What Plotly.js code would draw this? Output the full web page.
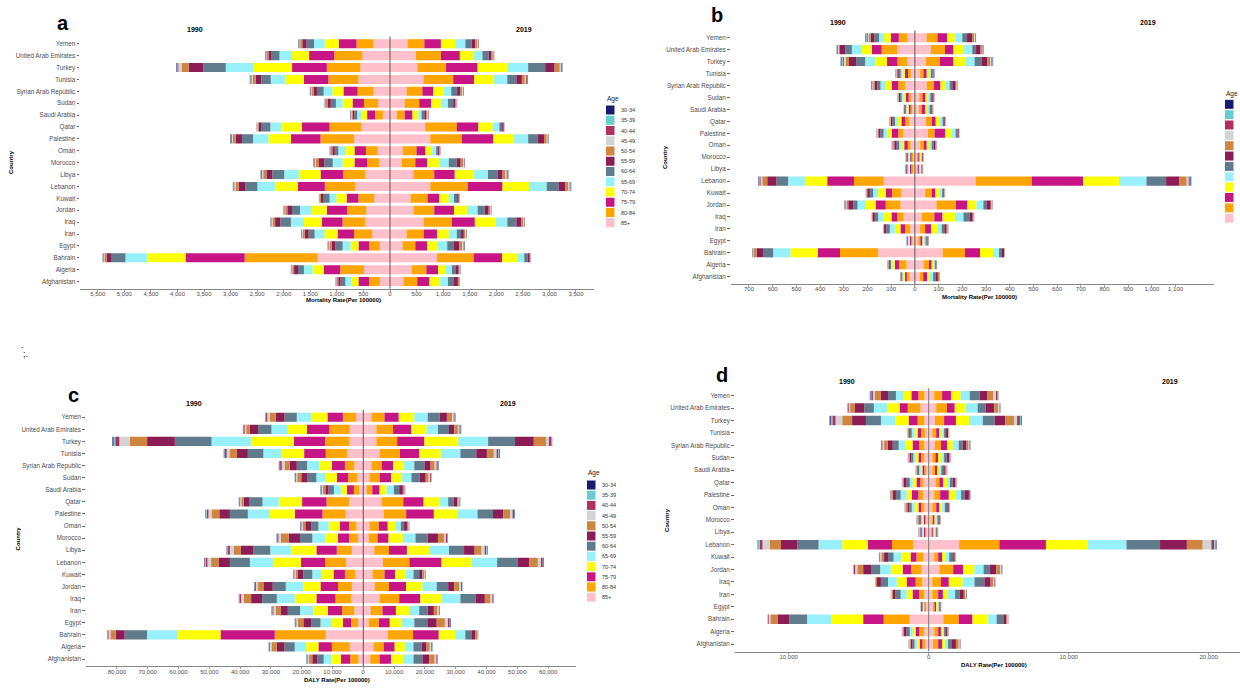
<!DOCTYPE html>
<html><head><meta charset="utf-8">
<script src="https://cdn.plot.ly/plotly-3.0.1.min.js"></script>
<style>html,body{margin:0;padding:0;background:#fff;}#chart{width:1240px;height:689px;}</style>
</head><body><div id="chart"></div>
<script>
// Countries, top to bottom as drawn
const countries = ["Yemen","United Arab Emirates","Turkey","Tunisia","Syrian Arab Republic","Sudan","Saudi Arabia","Qatar","Palestine","Oman","Morocco","Libya","Lebanon","Kuwait","Jordan","Iraq","Iran","Egypt","Bahrain","Algeria","Afghanistan"];
// Age groups in stacking order (centre outward)
const ages = ["85+","80-84","75-79","70-74","65-69","60-64","55-59","50-54","45-49","40-44","35-39","30-34"];
const ageColors = ["#FFC0CB","#FFA500","#C71585","#FFFF00","#98F0FA","#607B8B","#8B1C55","#CD853F","#D3D3D3","#B03060","#66CDCD","#1A1A6E"];

// Panel a: mortality rate, rows = countries, columns = ages
const mortA1990 = [
[320,310,335,265,200,140,80,40,15,15,5,3],
[520,528,475,320,237,149,59,30,10,10,5,5],
[557,632,654,720,528,423,275,134,59,20,10,10],
[594,565,461,356,268,178,104,60,22,15,8,7],
[320,289,268,208,163,127,59,35,15,12,7,5],
[223,267,216,186,126,97,59,30,12,8,5,4],
[134,148,149,111,75,52,37,20,10,8,3,3],
[542,595,520,394,200,164,59,20,8,5,2,2],
[676,632,557,423,290,208,119,52,22,15,8,7],
[230,223,216,163,141,67,45,25,12,8,4,3],
[208,223,238,223,185,156,104,59,20,12,7,6],
[468,409,431,408,275,223,112,60,25,15,6,5],
[654,572,505,431,335,223,126,59,25,15,7,5],
[297,297,223,193,127,111,52,20,8,5,2,2],
[446,356,387,282,223,149,89,40,15,10,5,4],
[468,424,393,335,245,201,96,50,20,10,5,4],
[334,342,312,245,186,112,74,35,15,10,4,3],
[193,201,200,149,149,133,75,40,15,10,5,4],
[1360,1374,1115,720,409,260,97,40,15,10,5,4],
[490,446,312,208,164,111,74,35,12,7,3,3],
[193,201,200,134,112,89,44,25,12,8,4,3]];
const mortA2019 = [
[327,319,312,268,193,119,67,37,15,10,3,2],
[483,475,357,260,164,118,53,25,10,8,4,4],
[513,542,594,558,393,320,178,97,25,15,7,5],
[632,557,394,364,260,171,104,55,25,15,8,8],
[312,297,208,201,134,111,60,35,15,8,4,4],
[275,275,223,185,134,97,37,20,8,5,2,2],
[126,149,149,111,59,52,38,20,10,8,3,3],
[661,595,408,268,126,52,30,8,3,2,1,1],
[758,594,595,386,267,179,119,52,20,10,4,3],
[238,260,171,126,74,37,25,15,7,3,1,1],
[223,253,222,231,178,149,74,45,20,10,4,3],
[438,394,387,356,268,178,97,52,25,20,8,6],
[758,706,654,497,335,223,126,59,25,15,7,5],
[386,320,223,178,97,59,30,12,5,3,1,1],
[446,386,372,245,200,134,74,30,12,7,2,2],
[632,534,431,387,223,171,89,40,18,10,4,2],
[312,320,252,223,149,81,52,30,15,8,4,3],
[238,238,222,194,185,127,96,60,25,15,7,5],
[884,691,535,282,134,67,37,12,5,3,2,1],
[409,275,222,134,126,75,52,20,8,5,2,2],
[253,260,230,201,148,112,74,20,8,5,2,2]];

// Panel b: mortality rate
const mortB1990 = [
[31,37,34,28,21,21,14,8,5,5,3,2],
[73,67,42,42,42,28,22,6,3,3,1,1],
[33,40,45,49,43,38,30,14,8,5,5,3],
[17,12,13,10,8,8,6,3,2,1,1,1],
[42,28,28,25,22,13,12,6,4,3,1,1],
[14,12,12,10,8,7,5,2,1,1,0.5,0.5],
[10,8,8,7,5,4,3,1,1,0.5,0.3,0.2],
[25,15,17,14,13,10,7,3,1,1,0.5,0.5],
[50,20,28,19,15,13,9,4,2,1,0.5,0.5],
[18,12,15,12,10,10,10,5,3,2,0.5,0.5],
[8,6,6,5,4,4,3,2,1,0.5,0.3,0.2],
[8,7,6,5,5,4,3,2,1,0.5,0.3,0.2],
[131,126,113,92,73,49,39,21,7,5,3,2],
[57,39,27,32,21,14,11,3,1,1,0.5,0.5],
[61,62,43,41,35,18,21,8,4,3,1,1],
[47,27,25,35,21,14,10,2,1,0.5,0.3,0.2],
[20,21,20,24,21,14,10,2,1,0.5,0.3,0.2],
[10,6,6,4,3,3,2,1,0.5,0.3,0.1,0.1],
[155,161,93,116,73,43,27,11,3,2,1,1],
[35,32,18,10,6,5,5,2,1,1,0.5,0.5],
[22,12,8,6,5,4,3,1,0.3,0.3,0.2,0.2]];
const mortB2019 = [
[49,46,41,32,32,20,21,10,3,2,1,1],
[67,60,36,42,37,16,19,6,3,2,1,1],
[47,58,58,50,39,31,22,12,6,4,2,1],
[22,14,14,10,8,7,4,2,1,1,0.5,0.5],
[50,30,28,22,17,11,14,4,2,1,0.5,0.5],
[18,14,13,11,9,8,6,2,1,1,0.2,0.2],
[17,13,13,10,9,7,5,2,1,0.5,0.3,0.2],
[47,25,16,17,12,7,4,1,0.5,0.3,0.1,0.1],
[55,28,44,28,17,8,5,2,1,0.3,0.2,0.1],
[22,15,13,11,10,8,8,3,2,1,0.2,0.2],
[8,6,6,5,4,3,3,1.5,1,0.3,0.1,0.1],
[8,6,5,4,4,3,2,1.5,1,0.3,0.1,0.1],
[256,237,217,151,116,83,56,31,8,5,3,3],
[43,28,16,19,9,5,4,2,1,0.3,0.1,0.1],
[91,82,49,38,29,13,18,4,2,1,0.5,0.5],
[29,53,35,52,36,25,14,3,1,1,0.5,0.5],
[22,21,25,28,17,11,10,4,1,1,0.5,0.5],
[14,9,9,7,6,5,4,2,1,1,0.5,0.5],
[117,94,64,55,25,10,11,2,1,0.5,0.3,0.2],
[38,21,12,7,6,4,3,1,0.3,0.2,0.1,0.1],
[20,15,16,13,13,10,10,5,2,1,0.5,0.5]];

// Panel c: DALY rate
const dalyC1990 = [
[2384,4239,5033,5298,4635,3974,2914,1987,700,400,150,100],
[4371,6622,7285,6225,5298,4371,2649,1192,500,350,120,90],
[4636,7682,10199,13907,12847,11921,9007,5562,3444,1325,600,327],
[5298,6887,7020,7285,5960,5033,3577,2384,900,550,250,154],
[2914,3046,4239,4105,3974,3311,2252,1722,900,550,250,154],
[1987,2914,3708,3576,3047,3046,1854,1325,450,250,60,35],
[1325,1721,2252,1987,2251,1722,1060,800,400,250,120,69],
[4636,7285,7947,7549,5298,4371,1722,800,400,250,80,59],
[5695,7550,9007,8212,7019,5828,3444,2516,1000,600,250,137],
[2252,2384,3046,3576,3312,2251,1987,900,400,250,100,72],
[1722,2914,3576,4106,4238,3974,3708,2517,800,400,180,77],
[3709,4900,6623,8212,6755,5563,3973,2384,1200,600,300,152],
[5563,6755,7947,8874,7682,6490,3709,2384,1200,600,300,152],
[2649,3311,3709,3841,3046,2914,1722,800,400,250,100,39],
[3709,4503,5695,5696,5563,4238,3046,1722,700,400,150,75],
[3974,5033,6225,7020,5828,4768,3576,2384,900,450,150,89],
[2914,3973,4636,4768,4239,3973,2384,1590,700,350,180,94],
[1722,2252,2649,3576,3708,3047,2516,1722,600,300,120,40],
[12185,16557,17616,13907,9934,7285,2914,1721,600,300,120,40],
[4371,5828,4371,3973,3709,3311,2517,1721,500,250,120,58],
[1589,2649,3047,3046,2517,2119,1589,1060,500,250,120,57]];
const dalyC2019 = [
[2649,4238,4636,5033,4371,3841,2384,1722,500,300,150,100],
[4238,5431,5960,4901,3708,3577,1721,1192,500,350,120,90],
[4238,6755,8875,10993,9669,8741,6093,3974,927,700,250,110],
[5298,6623,6225,7020,6357,5166,3443,2252,900,600,300,187],
[2649,3311,3709,3576,3311,3312,1986,1325,600,400,200,124],
[1987,3311,3709,3576,3046,2649,1987,927,450,300,100,77],
[1060,1854,2384,2252,2384,1722,1192,400,200,120,50,24],
[5960,7020,6623,5165,2781,1855,1060,500,300,150,60,49],
[6622,7285,9007,7550,6622,5033,3311,2252,800,450,200,139],
[1987,3046,2914,2384,1854,1060,927,400,200,120,50,25],
[1722,2914,3576,4636,4106,3973,3311,1987,600,350,150,92],
[3576,4768,5828,7285,6358,4900,3444,2252,1000,550,300,136],
[6358,8609,10463,9669,8345,6622,3841,2782,1000,600,250,137],
[3046,3841,3444,3576,2384,1855,1059,500,300,170,70,20],
[3709,4635,5563,5298,4636,3708,1987,1590,600,300,110,49],
[5298,6358,6887,6887,6093,4901,3046,1855,600,300,110,49],
[2384,3841,4371,4238,3312,2781,1987,1192,450,220,90,34],
[1722,3311,3576,3974,3973,4239,3046,2649,1000,600,250,137],
[7947,8212,8344,5298,3312,1986,1325,500,250,100,50,27],
[3311,3312,3576,3311,2781,2649,1590,1059,500,250,120,58],
[2252,3046,3709,3973,3311,2914,2252,1722,550,300,150,59]];

// Panel d: DALY rate
const dalyD1990 = [
[310,423,508,536,564,564,507,423,150,120,60,37],
[592,903,592,846,987,677,705,310,100,60,25,12],
[310,479,649,931,1043,1072,987,705,479,226,120,77],
[254,282,254,225,198,141,84,40,20,12,8,5],
[310,367,479,508,479,423,367,254,120,60,25,20],
[310,226,197,198,169,141,113,70,35,20,10,6],
[169,141,141,113,113,84,57,60,25,15,8,5],
[367,225,282,282,198,225,198,80,35,15,8,3],
[395,338,480,366,423,339,225,110,45,25,12,6],
[310,226,197,282,198,169,141,110,45,25,12,5],
[169,85,113,84,85,113,84,80,35,15,8,3],
[169,85,84,57,84,57,56,70,30,20,15,6],
[1100,1523,1720,1833,1692,1523,1156,818,507,200,150,17],
[395,479,423,649,564,395,282,200,90,50,20,6],
[508,733,620,846,762,648,564,423,150,80,40,12],
[451,480,648,705,621,507,282,80,35,15,8,3],
[310,367,479,423,423,367,197,80,40,15,5,1],
[169,85,56,57,56,56,57,30,12,8,4,2],
[1354,1861,1466,2256,1749,1269,846,507,120,50,20,8],
[310,367,254,225,198,225,198,80,35,15,8,3],
[254,197,198,169,197,141,141,80,35,15,8,3]];
const dalyD2019 = [
[395,564,648,677,649,705,564,423,180,120,60,6],
[536,761,564,790,846,564,620,282,100,45,15,9],
[451,649,846,930,987,846,762,620,226,200,100,38],
[254,282,225,198,141,141,141,40,20,12,8,4],
[451,423,451,395,423,282,282,141,70,40,20,11],
[254,225,198,225,198,197,169,80,35,15,8,3],
[254,197,169,141,141,141,113,90,40,20,12,7],
[479,282,282,282,198,197,169,80,35,15,8,3],
[395,423,620,508,366,254,310,80,35,15,8,3],
[254,282,225,198,197,169,113,50,20,8,4,3],
[197,113,113,113,84,85,85,50,20,8,4,2],
[169,85,84,85,85,56,56,30,12,8,5,2],
[2171,2877,3327,2961,2792,2397,1918,1128,620,200,120,47],
[395,282,282,282,225,282,113,50,20,10,3,2],
[761,987,705,818,649,423,479,282,100,45,20,4],
[254,620,564,987,846,705,451,200,70,40,20,9],
[254,423,338,367,507,339,282,120,50,30,15,10],
[310,113,113,113,84,57,56,30,12,8,4,2],
[1043,1100,987,1128,592,480,225,80,35,15,8,3],
[395,282,197,141,85,141,84,60,25,15,8,5],
[310,367,282,197,226,282,282,197,80,40,15,6]];

// Tick values (left side = 1990 drawn as negative)
const ticksA = [-5500,-5000,-4500,-4000,-3500,-3000,-2500,-2000,-1500,-1000,-500,0,500,1000,1500,2000,2500,3000,3500];
const ticksB = [-700,-600,-500,-400,-300,-200,-100,0,100,200,300,400,500,600,700,800,900,1000,1100];
const ticksC = [-80000,-70000,-60000,-50000,-40000,-30000,-20000,-10000,0,10000,20000,30000,40000,50000,60000];
const ticksD = [-10000,0,10000,20000];
const yearLabels = ["1990","2019"];
const panelLetters = ["a","b","c","d"];
const axisTitles = ["Mortality Rate(Per 100000)","Mortality Rate(Per 100000)","DALY Rate(Per 100000)","DALY Rate(Per 100000)"];

const W = 1240, H = 689;
const px = x => x / W, py = y => 1 - y / H;
const FONT = "Liberation Sans, Arial, Helvetica, sans-serif";
const fmt = v => String(Math.abs(v)).replace(/\B(?=(\d{3})+(?!\d))/g, ",");

const panels = [
  {d1990: mortA1990, d2019: mortA2019, ticks: ticksA, xd:[80,594], yd:[36.6,288.7], range:[-5834,3839],
   letter:[63,23], y1990:[195,29], y2019:[524,29], country:[11,162], atitle:[343,299.5], zc:"#555"},
  {d1990: mortB1990, d2019: mortB2019, ticks: ticksB, xd:[730.5,1214], yd:[30.5,283.9], range:[-778,1262],
   letter:[717,15], y1990:[838,23], y2019:[1148,23], country:[665,157], atitle:[979,296.5], zc:"#555"},
  {d1990: dalyC1990, d2019: dalyC2019, ticks: ticksC, xd:[85.7,575.5], yd:[410,666.3], range:[-90130,68900],
   letter:[73.5,395], y1990:[194,403], y2019:[508,403], country:[18.4,538], atitle:[337,679.5], zc:"#555"},
  {d1990: dalyD1990, d2019: dalyD2019, ticks: ticksD, xd:[734.6,1240], yd:[388.2,651.5], range:[-13864,22236],
   letter:[721.6,375], y1990:[847,381], y2019:[1170,381], country:[667,520], atitle:[993.5,664.5], zc:"#777"}
];

const traces = [];
const layout = {
  width: W, height: H, margin: {l:0, r:0, t:0, b:0},
  paper_bgcolor: "#fff", plot_bgcolor: "#fff",
  barmode: "relative", bargap: 0.24, showlegend: false,
  font: {family: FONT, color: "#333"},
  shapes: [], annotations: []
};

panels.forEach((p, i) => {
  const sfx = i === 0 ? "" : String(i + 1);
  const xa = "x" + sfx, ya = "y" + sfx;
  ages.forEach((age, k) => {
    traces.push({type:"bar", orientation:"h", name: age, y: countries, x: p.d1990.map(r => -r[k]),
      xaxis: xa, yaxis: ya, marker:{color: ageColors[k], line:{width:0}}, showlegend:false,
      customdata: p.d1990.map(r => r[k]), hovertemplate: "%{y}<br>1990 "+age+": %{customdata}<extra></extra>"});
    traces.push({type:"bar", orientation:"h", name: age, y: countries, x: p.d2019.map(r => r[k]),
      xaxis: xa, yaxis: ya, marker:{color: ageColors[k], line:{width:0}}, showlegend:false,
      hovertemplate: "%{y}<br>2019 "+age+": %{x}<extra></extra>"});
  });
  layout["xaxis" + sfx] = {
    anchor: ya, domain: [px(p.xd[0]), px(p.xd[1])], range: p.range,
    tickmode: "array", tickvals: p.ticks, ticktext: p.ticks.map(fmt),
    tickfont: {size: 6, color: "#4d4d4d", family: FONT},
    ticks: "outside", ticklen: 2, tickwidth: 0.8, tickcolor: "#888", ticklabelstandoff: -3,
    showline: true, linecolor: "#8a8a8a", linewidth: 1,
    showgrid: false, zeroline: false, fixedrange: true
  };
  layout["yaxis" + sfx] = {
    anchor: xa, domain: [py(p.yd[1]), py(p.yd[0])], type: "category",
    categoryorder: "array", categoryarray: countries.slice().reverse(), range: [-0.6, 20.6],
    tickfont: {size: 6.3, color: "#4d4d4d", family: FONT},
    ticks: "outside", ticklen: 2.5, tickwidth: 0.8, tickcolor: "#444",
    showline: false, showgrid: false, zeroline: false, fixedrange: true
  };
  layout.shapes.push({type:"line", xref: xa, yref: ya + " domain", x0:0, x1:0, y0:0, y1:1,
    line:{color: p.zc, width: 1}, layer:"above"});
  const ann = (pos, text, size, extra) => Object.assign({xref:"paper", yref:"paper", x: px(pos[0]), y: py(pos[1]),
    text: text, showarrow:false, xanchor:"center", yanchor:"middle", font:{family: FONT, size: size, color:"#000"}}, extra || {});
  layout.annotations.push(ann(p.letter, "<b>" + panelLetters[i] + "</b>", 20));
  layout.annotations.push(ann(p.y1990, "<b>" + yearLabels[0] + "</b>", 7));
  layout.annotations.push(ann(p.y2019, "<b>" + yearLabels[1] + "</b>", 7));
  layout.annotations.push(ann(p.country, "<b>Country</b>", 6, {textangle: -90}));
  layout.annotations.push(ann(p.atitle, "<b>" + axisTitles[i] + "</b>", 6));
});

// Hand-drawn legends (panels a, b, c); legend b sits at the cropped right edge, so only its swatches show
const legends = [
  {x: 606, y0: 110, step: 10.25, title: 99, labels: true},
  {x: 1225, y0: 104.3, step: 10.35, title: 94, labels: false},
  {x: 587, y0: 485, step: 10.2, title: 473, labels: true}
];
legends.forEach(L => {
  layout.annotations.push({xref:"paper", yref:"paper", x: px(L.x - 1), y: py(L.title), text:"Age", showarrow:false,
    xanchor:"left", yanchor:"middle", font:{family: FONT, size: 6.5, color:"#222"}});
  for (let j = 0; j < ages.length; j++) {
    const k = ages.length - 1 - j;
    const yc = L.y0 + j * L.step;
    layout.shapes.push({type:"rect", xref:"paper", yref:"paper", x0: px(L.x), x1: px(L.x + 8.5),
      y0: py(yc + 4.5), y1: py(yc - 4.5), fillcolor: ageColors[k], line:{width:0}, layer:"above"});
    if (L.labels) {
      layout.annotations.push({xref:"paper", yref:"paper", x: px(L.x + 12.5), y: py(yc), text: ages[k], showarrow:false,
        xanchor:"left", yanchor:"middle", font:{family: FONT, size: 5.5, color:"#333"}});
    }
  }
});

// stray marks between the panels in the source figure
layout.annotations.push({xref:"paper", yref:"paper", x: px(22), y: py(345), text:".", showarrow:false,
  xanchor:"center", yanchor:"middle", font:{family: FONT, size: 9, color:"#000"}});
layout.annotations.push({xref:"paper", yref:"paper", x: px(25), y: py(354), text:";.", showarrow:false,
  xanchor:"center", yanchor:"middle", font:{family: FONT, size: 9, color:"#000"}});

Plotly.newPlot("chart", traces, layout, {displayModeBar: false, staticPlot: true});
</script>
</body></html>
